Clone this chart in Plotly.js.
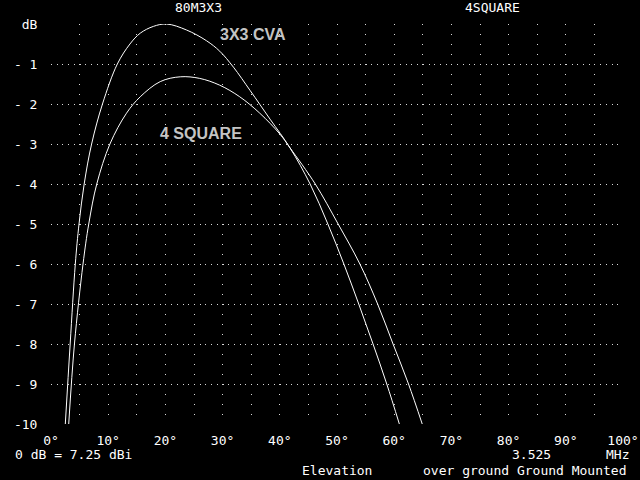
<!DOCTYPE html>
<html>
<head>
<meta charset="utf-8">
<script src="https://cdn.plot.ly/plotly-3.0.1.min.js"></script>
<style>
  html, body { margin: 0; padding: 0; background: #000; }
  #chart { width: 640px; height: 480px; }
</style>
</head>
<body>
<div id="chart"></div>
<script>
// Elevation angle (degrees) and relative gain (dB)
const elevCva = [2.5, 3.35, 4.25, 4.9, 5.8, 7.1, 9.0, 11.6, 13.8, 15.6, 17.9, 20.2, 23.7, 27.2, 29.5, 31.9, 34.8, 38.3, 41.8, 45.3, 48.4, 51.2, 53.8, 56.3, 58.7, 60.9];
const gainCva = [-10, -8, -6, -5, -4, -3, -2, -1, -0.5, -0.23, -0.06, 0, -0.15, -0.42, -0.68, -1.08, -1.66, -2.38, -3.1, -4, -5, -6, -7, -8, -9, -10];

const elevSq = [3.1, 4.1, 5.6, 6.6, 8.0, 10.3, 13.2, 15.6, 19.1, 22.6, 26.0, 29.5, 33.0, 36.5, 40.0, 41.8, 46.2, 50.2, 54.0, 57.1, 59.8, 62.5, 64.9];
const gainSq = [-10, -8, -6, -5, -4, -3, -2.23, -1.82, -1.44, -1.32, -1.36, -1.53, -1.82, -2.23, -2.75, -3.1, -4, -5, -6, -7, -8, -9, -10];

const xTickVals = [0, 5, 10, 15, 20, 25, 30, 35, 40, 45, 50, 55, 60, 65, 70, 75, 80, 85, 90, 95, 100];
const xTickText = ['0°', '', '10°', '', '20°', '', '30°', '', '40°', '', '50°', '', '60°', '', '70°', '', '80°', '', '90°', '', '100°'];
const yTickVals = [-10, -9, -8, -7, -6, -5, -4, -3, -2, -1, 0];
const yTickText = ['-10', '- 9', '- 8', '- 7', '- 6', '- 5', '- 4', '- 3', '- 2', '- 1', 'dB'];

const seriesNames = ['3X3 CVA', '4 SQUARE'];
const headerLeft = '80M3X3';
const headerRight = '4SQUARE';

const mono = '"DejaVu Sans Mono", "Liberation Mono", monospace';

const traces = [
  { x: elevCva, y: gainCva, name: seriesNames[0], mode: 'lines',
    line: { color: '#ffffff', width: 1, shape: 'spline', smoothing: 1 }, hoverinfo: 'skip' },
  { x: elevSq, y: gainSq, name: seriesNames[1], mode: 'lines',
    line: { color: '#ffffff', width: 1, shape: 'spline', smoothing: 1 }, hoverinfo: 'skip' }
];

function note(text, x, y, xanchor, size, color, family) {
  return { text: text, x: x, y: y, xref: 'paper', yref: 'paper', xanchor: xanchor, yanchor: 'middle',
           showarrow: false, font: { family: family || mono, size: size || 13, color: color || '#ffffff' } };
}

const labelFont = { family: '"Liberation Sans", Arial, sans-serif', size: 16, color: '#c4c4c4', weight: 'bold' };

const layout = {
  width: 640, height: 480,
  paper_bgcolor: '#000000', plot_bgcolor: '#000000',
  margin: { l: 51, r: 17, t: 24, b: 56 },
  showlegend: false,
  xaxis: {
    range: [0, 100], tickmode: 'array', tickvals: xTickVals, ticktext: xTickText,
    showgrid: true, gridcolor: '#d8d8d8', gridwidth: 1, griddash: '1px,9px',
    zeroline: false, showline: false,
    ticks: 'outside', ticklen: 4, tickcolor: 'rgba(0,0,0,0)',
    tickfont: { family: mono, size: 13, color: '#ffffff' }, fixedrange: true
  },
  yaxis: {
    range: [-10, 0], tickmode: 'array', tickvals: yTickVals, ticktext: yTickText,
    showgrid: true, gridcolor: '#d8d8d8', gridwidth: 1, griddash: '1px,4.72px',
    zeroline: false, showline: false,
    ticks: 'outside', ticklen: 10, tickcolor: 'rgba(0,0,0,0)',
    tickfont: { family: mono, size: 13, color: '#ffffff' }, fixedrange: true
  },
  annotations: [
    note(headerLeft, 0.2587, 1.0425, 'center'),
    note(headerRight, 0.771, 1.0425, 'center'),
    { text: seriesNames[0], x: 35.3, y: -0.25, xref: 'x', yref: 'y', showarrow: false, font: labelFont },
    { text: seriesNames[1], x: 26.2, y: -2.73, xref: 'x', yref: 'y', showarrow: false, font: labelFont },
    note('0 dB = 7.25 dBi', -0.066, -0.0775, 'left'),
    note('3.525', 0.803, -0.0775, 'left'),
    note('MHz', 0.967, -0.0775, 'left'),
    note('Elevation', 0.436, -0.115, 'left'),
    note('over ground Ground Mounted', 0.646, -0.115, 'left')
  ]
};

Plotly.newPlot('chart', traces, layout, { displayModeBar: false, staticPlot: true });
</script>
</body>
</html>
